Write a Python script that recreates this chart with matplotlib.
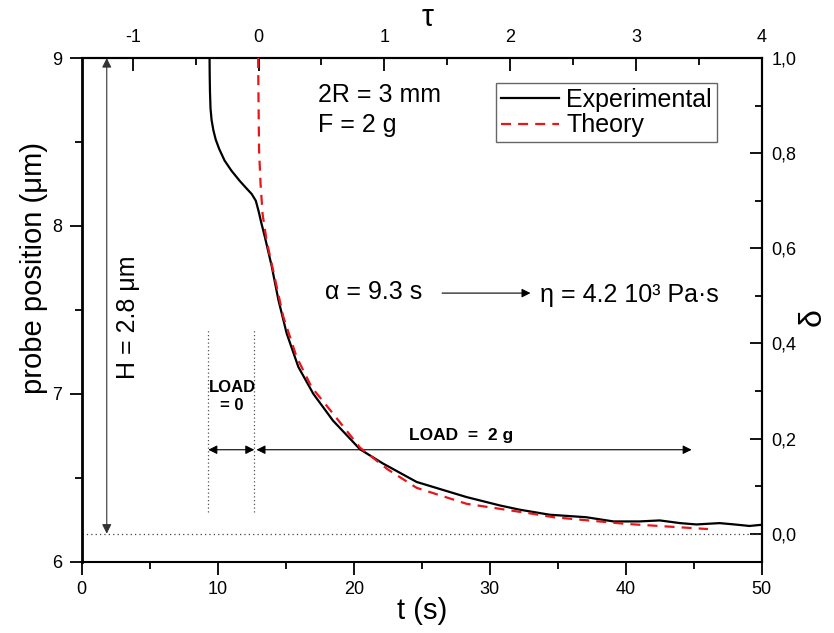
import numpy as np
import matplotlib.pyplot as plt
from matplotlib.ticker import MultipleLocator, FuncFormatter

plt.rcParams['font.family'] = ['Liberation Sans', 'DejaVu Sans']
plt.rcParams['axes.unicode_minus'] = False

# experimental probe position (um) vs time (s)
t_exp = [9.40, 9.41, 9.43, 9.47, 9.55, 9.68, 9.85, 10.1, 10.5, 11.0, 11.6, 12.1,
         12.5, 12.8, 13.0, 13.2, 13.48, 13.97, 14.46, 15.07, 15.93, 17.03, 18.48,
         20.46, 22.15, 24.63, 28.3, 30.76, 32.2, 34.4, 37.1, 39.1, 41.0, 42.5, 44.0,
         45.2, 46.9, 48.0, 49.1, 50.0]
h_exp = [9.00, 8.90, 8.80, 8.70, 8.63, 8.57, 8.515, 8.46, 8.39, 8.33, 8.27, 8.225,
         8.19, 8.15, 8.09, 8.02, 7.93, 7.76, 7.56, 7.36, 7.16, 7.00, 6.84,
         6.67, 6.585, 6.475, 6.385, 6.335, 6.31, 6.28, 6.265, 6.24, 6.24, 6.246, 6.23,
         6.222, 6.23, 6.222, 6.213, 6.22]

# theory curve
t_th = [12.97, 13.0, 13.04, 13.15, 13.3, 13.6, 14.09, 14.82, 15.8, 16.9, 18.5,
        20.46, 22.5, 24.63, 28.3, 33.2, 34.7, 40.07, 45.96, 46.05]
h_th = [9.00, 8.75, 8.45, 8.25, 8.07, 7.91, 7.73, 7.46, 7.22, 7.04, 6.88,
        6.68, 6.55, 6.44, 6.345, 6.285, 6.265, 6.225, 6.195, 6.195]

T0 = 13.0       # tau = 0
ALPHA = 9.25    # time scale (s)
H_INF = 6.167   # delta = 0
H_SPAN = 2.833  # delta = 1 at 9 um

fig = plt.figure(figsize=(8.34, 6.33), dpi=100)
ax = fig.add_axes([0.098, 0.1126, 0.8153, 0.7957])

ax.plot(t_exp, h_exp, color='black', lw=1.6, label='Experimental', zorder=4)
ax.plot(t_th, h_th, color='#e8161b', lw=1.6, dashes=(4.5, 3.2), label='Theory', zorder=5)

ax.set_xlim(0, 50)
ax.set_ylim(6, 9)
ax.xaxis.set_major_locator(MultipleLocator(10))
ax.xaxis.set_minor_locator(MultipleLocator(5))
ax.yaxis.set_major_locator(MultipleLocator(1))
ax.yaxis.set_minor_locator(MultipleLocator(0.5))
ax.tick_params(which='major', direction='out', length=9, width=1.3, labelsize=13, pad=5)
ax.tick_params(which='minor', direction='out', length=5, width=1.3)
ax.tick_params(top=False, right=False)
for s in ax.spines.values():
    s.set_linewidth(1.5)
ax.spines['left'].set_linewidth(2)

ax.set_xlabel('t (s)', fontsize=21)
ax.xaxis.set_label_coords(0.5, -0.07)
ax.set_ylabel('probe position (μm)', fontsize=21)
ax.yaxis.set_label_coords(-0.049, 0.583)

# top tau axis
secx = ax.secondary_xaxis('top', functions=(lambda t: (t - T0) / ALPHA,
                                            lambda u: u * ALPHA + T0))
secx.xaxis.set_major_locator(MultipleLocator(1))
secx.xaxis.set_minor_locator(MultipleLocator(0.5))
secx.tick_params(which='major', direction='in', length=9, width=1.3, labelsize=13, pad=9)
secx.tick_params(which='minor', direction='in', length=5, width=1.3)
secx.spines['top'].set_linewidth(1.5)
ax.text(0.508, 1.079, 'τ', transform=ax.transAxes, fontsize=22, ha='center', va='center')

# right delta axis
secy = ax.secondary_yaxis('right', functions=(lambda h: (h - H_INF) / H_SPAN,
                                              lambda d: d * H_SPAN + H_INF))
secy.yaxis.set_major_locator(MultipleLocator(0.2))
secy.yaxis.set_minor_locator(MultipleLocator(0.1))
secy.yaxis.set_major_formatter(FuncFormatter(lambda v, p: f"{v:.1f}".replace('.', ',').replace('-0,0', '0,0')))
secy.tick_params(which='major', direction='in', length=9, width=1.3, labelsize=13, pad=7)
secy.tick_params(which='minor', direction='in', length=5, width=1.3)
secy.spines['right'].set_linewidth(1.5)
ax.text(1.0754, 0.486, 'δ', transform=ax.transAxes, fontsize=23, rotation=90,
        ha='center', va='center')

# baseline delta = 0
ax.axhline(H_INF, color='#444444', lw=0.9, ls=(0, (1, 2.5)), zorder=2)

# H arrow
ax.annotate('', xy=(1.84, 9.0), xytext=(1.84, H_INF),
            arrowprops=dict(arrowstyle='<|-|>', color='#333333', lw=0.8,
                            mutation_scale=14, shrinkA=0, shrinkB=0))
ax.text(3.4, 7.456, 'H = 2.8 μm', rotation=90, fontsize=18, ha='center', va='center')

# load markers
for tx in [9.31, 12.69]:
    ax.plot([tx, tx], [6.297, 7.378], color='#555555', lw=0.9, ls=(0, (1, 2)), zorder=2)
ax.annotate('', xy=(9.31, 6.667), xytext=(12.69, 6.667),
            arrowprops=dict(arrowstyle='<|-|>', color='black', lw=0.8,
                            mutation_scale=13, shrinkA=0, shrinkB=0))
ax.annotate('', xy=(12.85, 6.667), xytext=(44.85, 6.667),
            arrowprops=dict(arrowstyle='<|-|>', color='black', lw=0.8,
                            mutation_scale=13, shrinkA=0, shrinkB=0))
ax.text(11.05, 6.985, 'LOAD\n= 0', fontsize=12, fontweight='bold', ha='center',
        va='center', linespacing=1.3)
ax.text(27.9, 6.752, 'LOAD  =  2 g', fontsize=12.5, fontweight='bold', ha='center', va='center')

# parameters
ax.text(17.37, 8.78, '2R = 3 mm', fontsize=18, ha='left', va='center')
ax.text(17.37, 8.60, 'F = 2 g', fontsize=18, ha='left', va='center')
ax.text(17.9, 7.605, 'α = 9.3 s', fontsize=18, ha='left', va='center')
ax.annotate('', xy=(33.0, 7.6), xytext=(26.5, 7.6),
            arrowprops=dict(arrowstyle='-|>', color='black', lw=0.8,
                            mutation_scale=13, shrinkA=0, shrinkB=0))
ax.text(33.7, 7.59, 'η = 4.2 10³ Pa·s', fontsize=18, ha='left', va='center')

leg = ax.legend(loc='upper right', bbox_to_anchor=(0.934, 0.950), fontsize=18,
                fancybox=False, framealpha=1, edgecolor='#666666', borderpad=0.2,
                labelspacing=0.05, handlelength=2.3, handletextpad=0.3, borderaxespad=0)
leg.get_frame().set_linewidth(1.0)

fig.savefig('out.png', dpi=100)
